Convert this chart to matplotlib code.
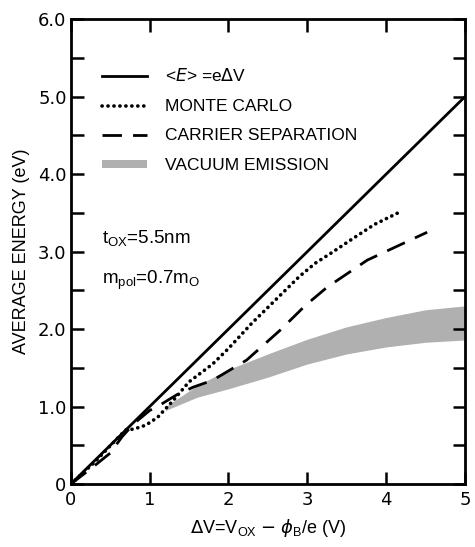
import matplotlib.pyplot as plt
from matplotlib.patches import Patch
from matplotlib.lines import Line2D

plt.rcParams['font.family'] = ['Liberation Sans', 'DejaVu Sans']

# ideal <E> = e dV
ideal_x = [0, 5]
ideal_y = [0, 5]

# Monte Carlo (dotted)
mc_x = [0, 0.3, 0.6, 0.7, 0.8, 0.95, 1.1, 1.3, 1.5, 1.8, 2.0, 2.3, 2.6, 2.9, 3.1, 3.3, 3.55, 3.85, 4.15]
mc_y = [0, 0.28, 0.6, 0.7, 0.71, 0.76, 0.86, 1.08, 1.32, 1.55, 1.75, 2.08, 2.38, 2.68, 2.85, 2.98, 3.15, 3.35, 3.50]

# carrier separation (dashed)
cs_x = [0, 0.28, 0.5, 0.65, 0.8, 1.0, 1.13, 1.34, 1.55, 1.8, 2.23, 2.66, 2.97, 3.25, 3.76, 4.52]
cs_y = [0, 0.22, 0.40, 0.61, 0.78, 0.95, 1.02, 1.15, 1.25, 1.34, 1.60, 1.99, 2.30, 2.54, 2.89, 3.25]

# vacuum emission band
ve_x = [1.2, 1.6, 2.0, 2.5, 3.0, 3.5, 4.0, 4.5, 5.0]
ve_hi = [1.0, 1.27, 1.48, 1.68, 1.87, 2.03, 2.15, 2.25, 2.30]
ve_lo = [0.95, 1.12, 1.23, 1.38, 1.55, 1.68, 1.77, 1.83, 1.86]

fig = plt.figure(figsize=(4.75, 5.47), dpi=100)
ax = fig.add_axes([0.149, 0.115, 0.830, 0.850])

band_color = '#b0b0b0'
dots = (0, (0.05, 1.6))
dashes = (0, (7, 4))
ax.fill_between(ve_x, ve_lo, ve_hi, color=band_color, linewidth=0)
ax.plot(ideal_x, ideal_y, color='black', linewidth=2.0)
ax.plot(mc_x, mc_y, color='black', linewidth=2.6, linestyle=dots, dash_capstyle='round')
ax.plot(cs_x, cs_y, color='black', linewidth=2.0, linestyle=dashes)

ax.set_xlim(0, 5)
ax.set_ylim(0, 6)
ax.set_xticks([0, 1, 2, 3, 4, 5])
ax.set_xticklabels(['0', '1', '2', '3', '4', '5'])
ax.set_yticks([0, 0.5, 1, 1.5, 2, 2.5, 3, 3.5, 4, 4.5, 5, 5.5, 6])
ax.set_yticklabels(['0', '', '1.0', '', '2.0', '', '3.0', '', '4.0', '', '5.0', '', '6.0'])
ax.tick_params(direction='in', length=9, width=1.8, labelsize=13,
               top=True, right=True, pad=3)
ax.tick_params(axis='x', pad=5)
for lab in ax.get_xticklabels() + ax.get_yticklabels():
    lab.set_family('DejaVu Sans')
for s in ax.spines.values():
    s.set_linewidth(2.0)

ax.set_xlabel(r'$\Delta$V=V$_{\mathregular{OX}}$ $-$ $\phi_{\mathregular{B}}$/e (V)', fontsize=13, labelpad=6)
ax.set_ylabel('AVERAGE ENERGY (eV)', fontsize=13, labelpad=6)

ax.text(0.4, 3.17, r't$_{\mathregular{OX}}$=5.5nm', fontsize=13.5, va='center')
ax.text(0.4, 2.63, r'm$_{\mathregular{pol}}$=0.7m$_{\mathregular{O}}$', fontsize=13.5, va='center')

handles = [
    Line2D([], [], color='black', linewidth=2.0),
    Line2D([], [], color='black', linewidth=2.6, linestyle=dots, dash_capstyle='round'),
    Line2D([], [], color='black', linewidth=2.0, linestyle=dashes),
    Patch(facecolor=band_color, edgecolor='none'),
]
labels = [r'<$E$> =e$\Delta$V', 'MONTE CARLO', 'CARRIER SEPARATION', 'VACUUM EMISSION']
ax.legend(handles, labels, loc='upper left', bbox_to_anchor=(0.04, 0.93),
          frameon=False, fontsize=12.5, handlelength=2.6, handletextpad=1.0,
          labelspacing=0.84, handleheight=0.35)

fig.savefig('out.png', dpi=100)
